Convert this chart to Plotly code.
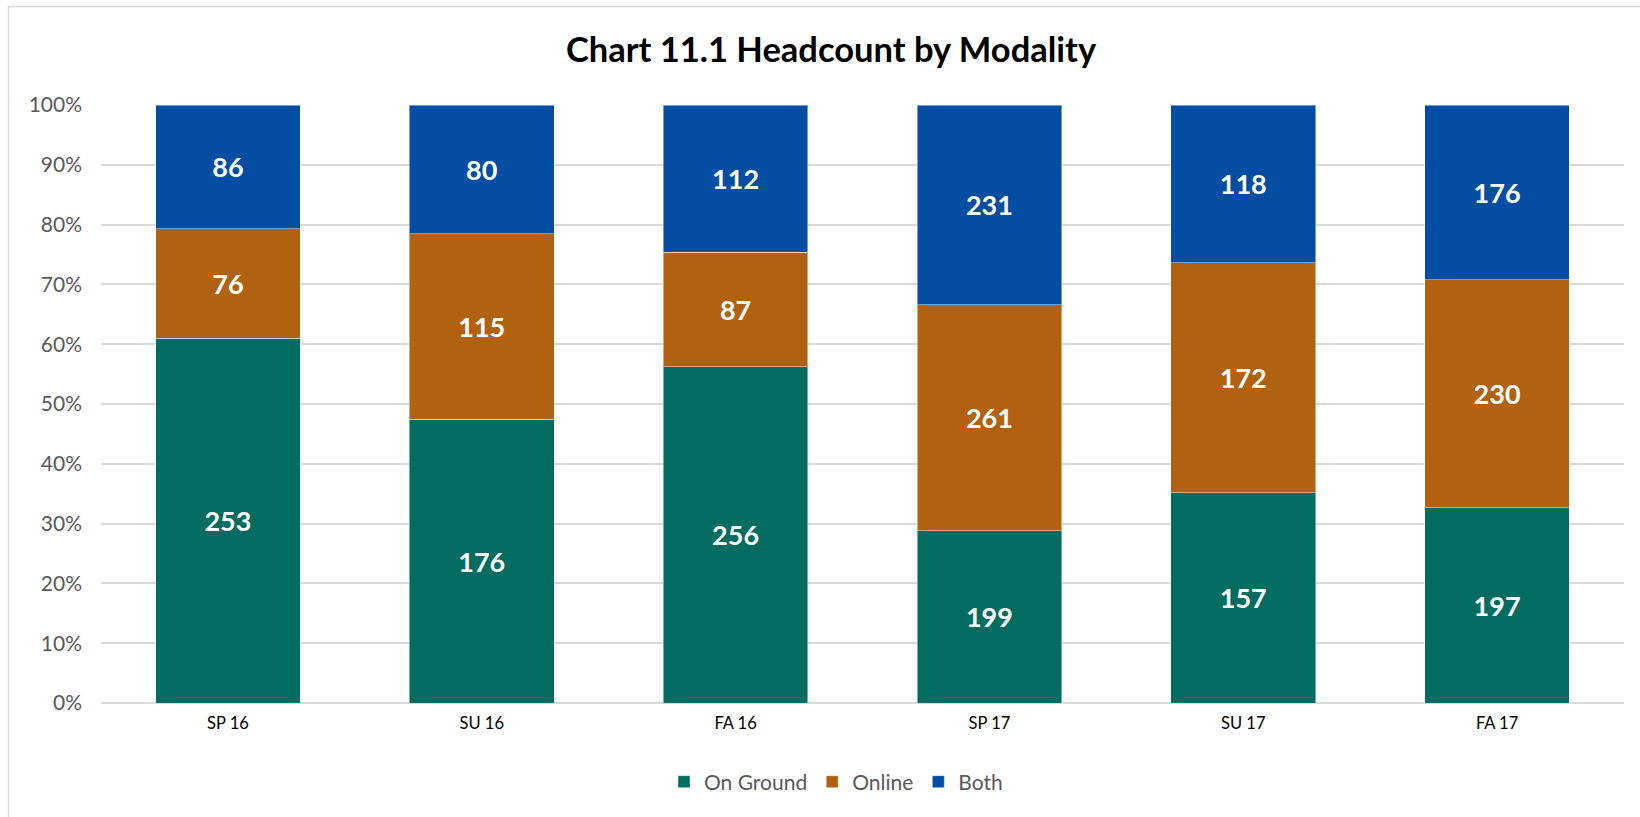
import plotly.graph_objects as go

categories = ["SP 16", "SU 16", "FA 16", "SP 17", "SU 17", "FA 17"]
on_ground = [253, 176, 256, 199, 157, 197]
online = [76, 115, 87, 261, 172, 230]
both = [86, 80, 112, 231, 118, 176]

series = [
    ("On Ground", on_ground, "#026C61"),
    ("Online", online, "#B06211"),
    ("Both", both, "#034EA2"),
]

FONT = "Lato"

fig = go.Figure()
for name, vals, color in series:
    fig.add_trace(go.Bar(
        x=categories, y=vals, name=name,
        marker=dict(color=color, line=dict(color="rgba(255,255,255,0.45)", width=1)),
        text=[str(v) for v in vals], texttemplate="%{text}",
        textposition="inside", insidetextanchor="middle",
        textfont=dict(family=FONT, size=27, color="white", weight="bold"),
        constraintext="none",
    ))

W, H = 1640, 817
l, r, t, b = 101, 16, 105, 114
pw, ph = W - l - r, H - t - b

def px(x):
    return (x - l) / pw

def py(y):
    return (H - b - y) / ph

fig.update_layout(
    width=W, height=H,
    barmode="stack", barnorm="percent", bargap=0.43,
    plot_bgcolor="white", paper_bgcolor="white",
    margin=dict(l=l, r=r, t=t, b=b, autoexpand=False),
    title=dict(text="<b>Chart 11.1 Headcount by Modality</b>",
               x=px(831), xref="paper", xanchor="center",
               y=1 - 50 / H, yanchor="middle",
               font=dict(family=FONT, size=34.5, color="black")),
    legend=dict(orientation="h", x=px(836), xanchor="center", y=py(782), yanchor="middle",
                font=dict(family=FONT, size=21, color="#595959"),
                traceorder="normal", itemwidth=30),
    xaxis=dict(showgrid=False, showline=False, ticks="",
               tickfont=dict(family=FONT, size=16.5, color="black"), ticklabelstandoff=8),
    yaxis=dict(range=[0, 100], dtick=10, ticksuffix="%", showgrid=True,
               gridcolor="#D9D9D9", gridwidth=1.5, zeroline=True, zerolinecolor="#D9D9D9",
               zerolinewidth=1.5,
               tickfont=dict(family=FONT, size=21, color="#595959"), ticklabelstandoff=18),
    shapes=[dict(type="rect", xref="paper", yref="paper",
                 x0=px(8.5), x1=px(1650), y0=py(830), y1=py(6.5),
                 line=dict(color="#D9D9D9", width=1.5), fillcolor="rgba(0,0,0,0)", layer="below")],
)

fig.write_html("out.html", config={"displayModeBar": False},
               post_script="document.body.style.margin='0';document.body.style.overflow='hidden';")
